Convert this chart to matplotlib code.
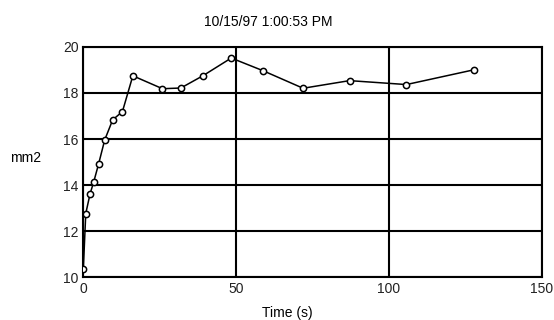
import matplotlib.pyplot as plt

plt.rcParams['font.family'] = ['Liberation Sans', 'DejaVu Sans']

# 数据
time_s = [0, 0.8, 2.2, 3.4, 5.0, 7.0, 9.6, 12.8, 16.2, 25.9, 31.9, 39.1,
          48.4, 58.8, 71.9, 87.1, 105.7, 127.8]
area_mm2 = [10.36, 12.77, 13.62, 14.14, 14.92, 15.96, 16.83, 17.19, 18.74,
            18.18, 18.21, 18.74, 19.51, 18.96, 18.2, 18.53, 18.36, 19.0]
x_ticks = [0, 50, 100, 150]
y_ticks = [10, 12, 14, 16, 18, 20]

fig = plt.figure(figsize=(5.54, 3.2), dpi=100)
ax = fig.add_axes([0.1504, 0.133, 0.8276, 0.721])

ax.plot(time_s, area_mm2, color='black', linewidth=1.1, marker='o',
        markersize=4.5, markerfacecolor='white', markeredgecolor='black',
        markeredgewidth=1.1, zorder=3)

ax.set_xlim(0, 150)
ax.set_ylim(10, 20)
ax.set_xticks(x_ticks)
ax.set_yticks(y_ticks)
ax.grid(True, color='black', linewidth=1.5)
for s in ax.spines.values():
    s.set_linewidth(1.5)
ax.tick_params(length=0, labelsize=10, colors='#222222', pad=3.5)

# 标题与轴标签
fig.text(0.484, 0.920, '10/15/97 1:00:53 PM', ha='center', va='baseline', fontsize=10)
fig.text(0.519, 0.008, 'Time (s)', ha='center', va='baseline', fontsize=10)
fig.text(0.018, 0.495, 'mm2', ha='left', va='baseline', fontsize=10)

fig.savefig('out.png', dpi=100)
